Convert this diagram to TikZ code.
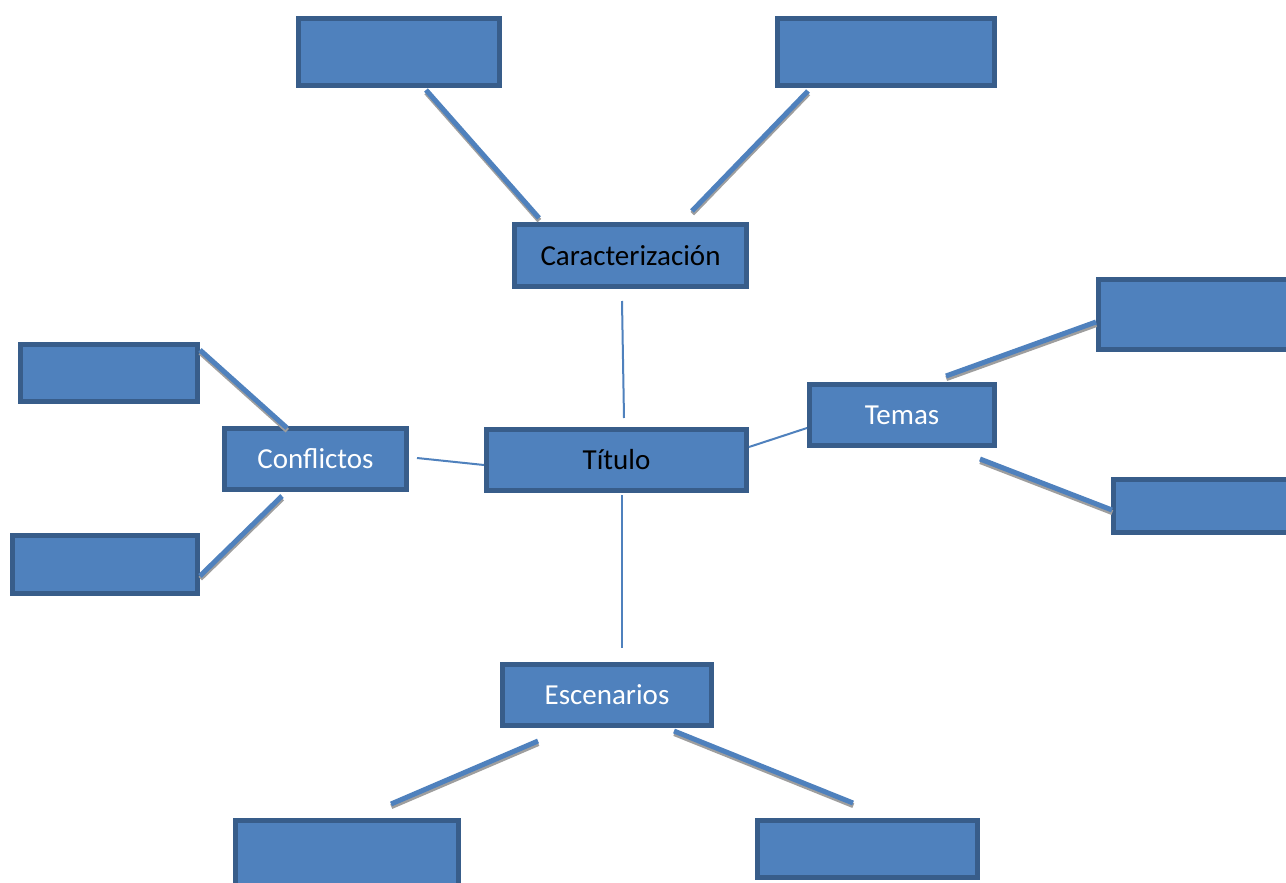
\documentclass[tikz,border=0pt]{standalone}
\usepackage{fontspec}
\setmainfont{Carlito}
\definecolor{boxfill}{HTML}{4F81BD}
\definecolor{boxline}{HTML}{385D8A}
\definecolor{shade}{HTML}{9E9E9E}
\tikzset{
  box/.style={rectangle, fill=boxfill, draw=boxline, line width=5pt, inner sep=0pt, font=\fontsize{29}{34}\selectfont},
  dark/.style={text=black},
  light/.style={text=white},
  thin link/.style={draw=boxfill, line width=2pt},
  thick link/.style={draw=boxfill, line width=5pt},
  link shade/.style={draw=shade, line width=5pt, transform canvas={shift={(0.3pt,-2.6pt)}}},
}
\begin{document}
\begin{tikzpicture}[x=1pt,y=-1pt]
\useasboundingbox[fill=white] (0,0) rectangle (1286,883);
% nodes (min size = outer size - line width)
\node[box, minimum width=201, minimum height=67] (tl) at (399,52) {};
\node[box, minimum width=217, minimum height=67] (tr) at (886,52) {};
\node[box, dark, minimum width=232, minimum height=62] (car) at (630.5,255.5) {Caracterización};
\node[box, minimum width=195, minimum height=70] (rt) at (1196,314.5) {};
\node[box, minimum width=177, minimum height=57] (lt) at (109,373) {};
\node[box, light, minimum width=182, minimum height=61] (conf) at (315.5,459) {Conflictos};
\node[box, dark, minimum width=260, minimum height=61] (tit) at (616.5,460) {Título};
\node[box, light, minimum width=185, minimum height=61] (tem) at (902,415) {Temas};
\node[box, minimum width=180, minimum height=53] (rb) at (1203.5,506) {};
\node[box, minimum width=185, minimum height=58] (lb) at (105,564.5) {};
\node[box, light, minimum width=209, minimum height=61] (esc) at (607,695) {Escenarios};
\node[box, minimum width=223, minimum height=70] (bl) at (347,855.5) {};
\node[box, minimum width=220, minimum height=57] (br) at (867.5,849) {};
% connector end points
\coordinate (a1) at (426,90);   \coordinate (a2) at (539,218);
\coordinate (b1) at (808,91);   \coordinate (b2) at (692,211);
\coordinate (c1) at (946,376);  \coordinate (c2) at (1096,322);
\coordinate (d1) at (980,459);  \coordinate (d2) at (1112,510);
\coordinate (e1) at (200,350);  \coordinate (e2) at (287,428);
\coordinate (f1) at (282,496);  \coordinate (f2) at (200,576);
\coordinate (g1) at (538,741);  \coordinate (g2) at (391,804);
\coordinate (h1) at (674,731);  \coordinate (h2) at (853,803);
\coordinate (t1) at (622,301);  \coordinate (t2) at (624,418);
\coordinate (u1) at (417,458);  \coordinate (u2) at (484,465);
\coordinate (v1) at (749,447);  \coordinate (v2) at (807,428);
\coordinate (w1) at (622,495);  \coordinate (w2) at (622,648);
% thick connectors with shadow
\foreach \p/\q in {a1/a2,b1/b2,c1/c2,d1/d2,e1/e2,f1/f2,g1/g2,h1/h2}{
  \draw[link shade] (\p) -- (\q);
  \draw[thick link] (\p) -- (\q);
}
% thin connectors
\draw[thin link] (t1) -- (t2);
\draw[thin link] (u1) -- (u2);
\draw[thin link] (v1) -- (v2);
\draw[thin link] (w1) -- (w2);
\end{tikzpicture}
\end{document}
